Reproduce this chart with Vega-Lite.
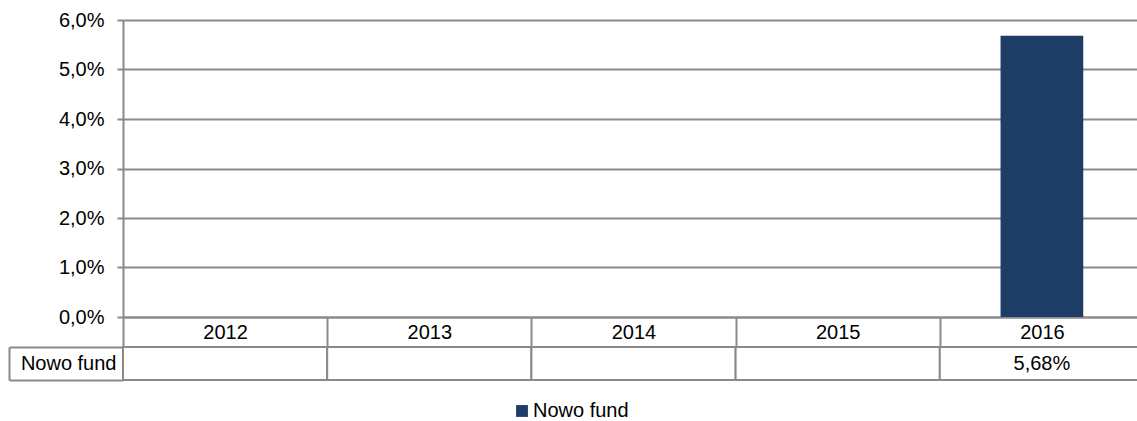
{
  "$schema": "https://vega.github.io/schema/vega-lite/v6.json",
  "autosize": "none",
  "padding": {"left": 123, "top": 20, "right": 1014, "bottom": 401},
  "background": "white",
  "bounds": "flush",
  "spacing": 30,
  "resolve": {"scale": {"x": "independent", "y": "independent"}},
  "config": {
    "font": "Liberation Sans",
    "locale": {"number": {"decimal": ",", "thousands": " ", "grouping": [3], "currency": ["", ""]}},
    "view": {"stroke": null}
  },
  "data": {"values": [
    {"year": "2012", "series": "Nowo fund", "value": null},
    {"year": "2013", "series": "Nowo fund", "value": null},
    {"year": "2014", "series": "Nowo fund", "value": null},
    {"year": "2015", "series": "Nowo fund", "value": null},
    {"year": "2016", "series": "Nowo fund", "value": 0.0568}
  ]},
  "vconcat": [
    {
      "width": 1021,
      "height": 297,
      "mark": {"type": "bar", "color": "#1e3d66", "width": {"band": 0.405}},
      "encoding": {
        "x": {
          "field": "year", "type": "nominal",
          "scale": {"domain": ["2012", "2013", "2014", "2015", "2016"], "paddingInner": 0, "paddingOuter": 0},
          "axis": {
            "title": null, "labelAngle": 0, "labelFontSize": 20, "labelColor": "#000000",
            "labelFont": "Liberation Sans",
            "tickBand": "extent", "tickSize": 30, "tickColor": "#8a8a8a", "tickWidth": 2,
            "domainColor": "#8a8a8a", "domainWidth": 2,
            "labelBaseline": "middle", "labelPadding": -15
          }
        },
        "y": {
          "field": "value", "type": "quantitative",
          "scale": {"domain": [0, 0.06], "nice": false},
          "axis": {
            "title": null, "values": [0, 0.01, 0.02, 0.03, 0.04, 0.05, 0.06],
            "format": ".1%", "labelFontSize": 20, "labelColor": "#000000",
            "labelFont": "Liberation Sans",
            "tickSize": 6, "tickColor": "#8a8a8a", "tickWidth": 2,
            "domainColor": "#8a8a8a", "domainWidth": 2,
            "gridColor": "#8a8a8a", "gridWidth": 2, "grid": true,
            "labelPadding": 13
          }
        },
        "color": {
          "field": "series", "type": "nominal",
          "scale": {"range": ["#1e3d66"]},
          "legend": {
            "title": null, "orient": "none", "legendX": 389, "legendY": 381,
            "symbolType": "square", "symbolSize": 140, "symbolOpacity": 1,
            "labelFontSize": 20, "labelFont": "Liberation Sans", "labelColor": "#000000",
            "labelOffset": 1
          }
        }
      }
    },
    {
      "width": 1021,
      "height": 33,
      "layer": [
        {
          "mark": {"type": "rect", "fill": "white", "stroke": "#8a8a8a", "strokeWidth": 2},
          "encoding": {
            "x": {"field": "year", "type": "nominal", "scale": {"paddingInner": 0, "paddingOuter": 0}, "axis": null},
            "y": {
              "field": "series", "type": "nominal",
              "scale": {"paddingInner": 0, "paddingOuter": 0},
              "axis": {
                "title": null, "orient": "left", "offset": 114,
                "domain": true, "domainColor": "#8a8a8a", "domainWidth": 2,
                "tickBand": "extent", "tickSize": -114, "tickColor": "#8a8a8a", "tickWidth": 2,
                "labelPadding": 7, "labelFontSize": 20, "labelFont": "Liberation Sans", "labelColor": "#000000"
              }
            }
          }
        },
        {
          "transform": [{"filter": "isValid(datum.value)"}],
          "mark": {"type": "text", "fontSize": 20, "font": "Liberation Sans", "color": "#000000"},
          "encoding": {
            "x": {"field": "year", "type": "nominal"},
            "y": {"field": "series", "type": "nominal"},
            "text": {"field": "value", "type": "quantitative", "format": ".2%"}
          }
        }
      ]
    }
  ]
}
